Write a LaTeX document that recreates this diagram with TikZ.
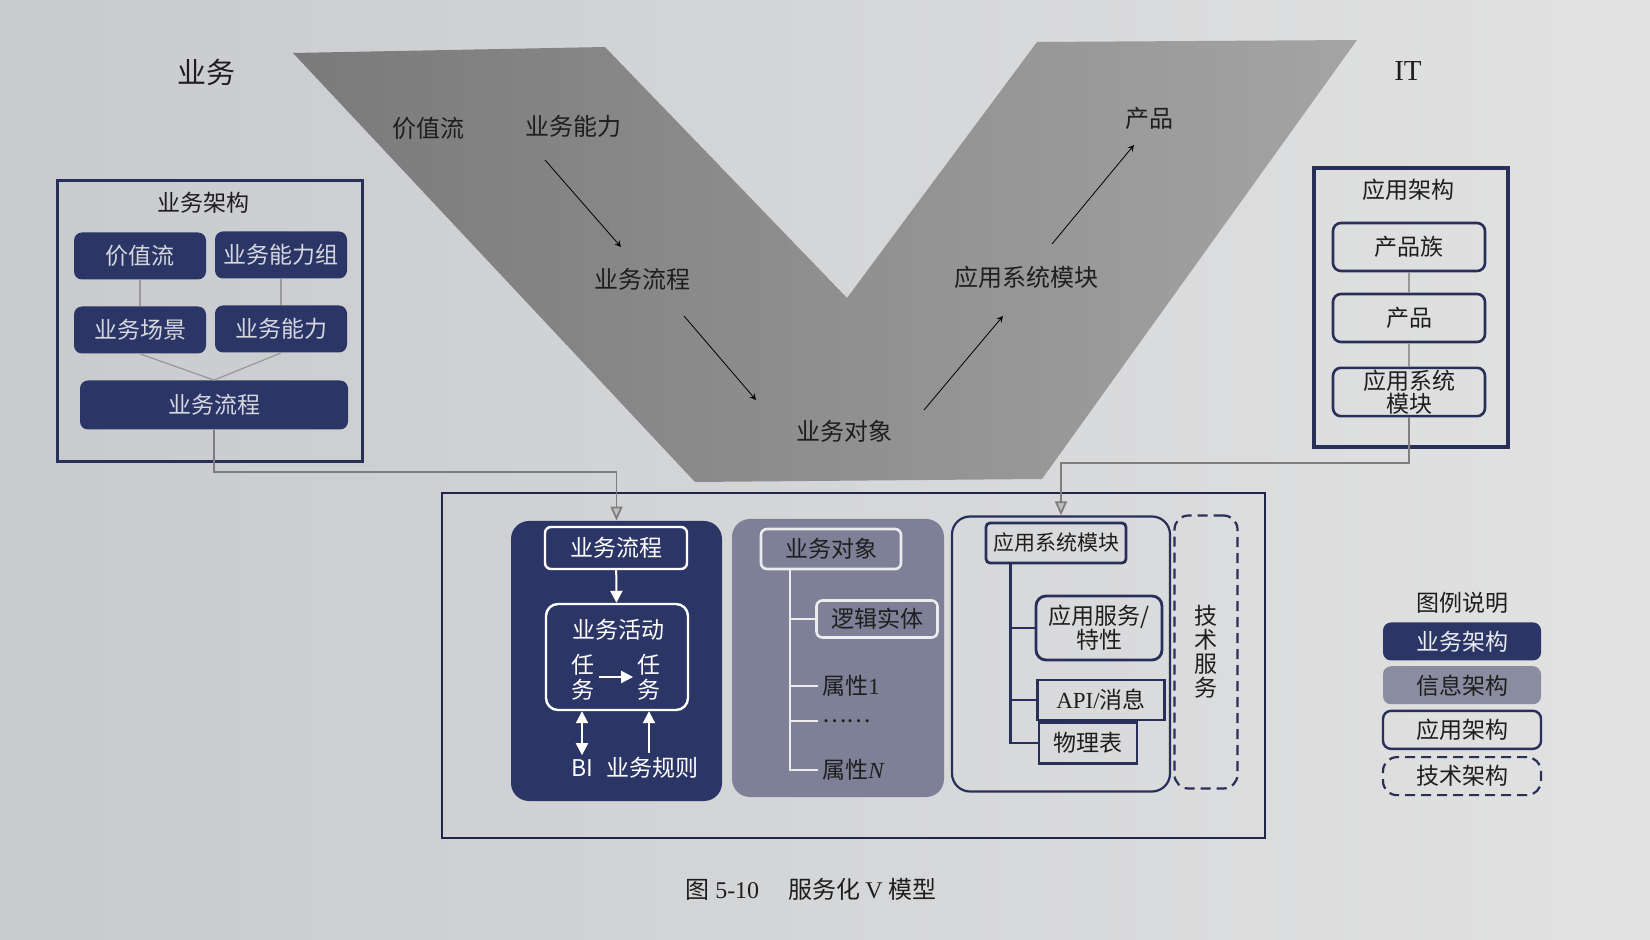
\documentclass[tikz,border=0pt]{standalone}
\usepackage{fontspec}
\setmainfont{Noto Sans CJK SC}
\newfontfamily\latin{Liberation Serif}
\usetikzlibrary{arrows.meta,positioning}
\definecolor{bizblue}{HTML}{2C3666}
\definecolor{infogray}{HTML}{7D8096}
\definecolor{framenavy}{HTML}{28305A}
\definecolor{vdark}{HTML}{7A7A7A}
\definecolor{vlight}{HTML}{A4A4A4}
\definecolor{pageleft}{HTML}{C8CACE}
\definecolor{pageright}{HTML}{E2E2E2}
\definecolor{linkgray}{HTML}{7E7E7E}
\definecolor{inktext}{HTML}{1E1E1E}

\begin{document}
\begin{tikzpicture}[x=0.5pt, y=-0.5pt, >=stealth,
  every node/.style={font=\fontsize{11.5}{12.5}\selectfont, text=inktext, inner sep=2pt},
  archframe/.style={draw=framenavy, line width=1.5pt},
  bizbox/.style={fill=bizblue, text=white!80!bizblue, rounded corners=4pt, minimum width=66pt, minimum height=23.5pt},
  appbox/.style={draw=framenavy, line width=1.3pt, rounded corners=4pt, minimum width=76pt, minimum height=24pt},
  whitebox/.style={draw=white, line width=1.2pt, rounded corners=3pt, text=white},
  infobox/.style={draw=white!85!infogray, line width=1.3pt, rounded corners=3pt},
  modbox/.style={draw=framenavy, line width=1.4pt},
  vlabel/.style={font=\fontsize{12}{13}\selectfont},
  thinlink/.style={draw=linkgray!80, line width=0.6pt},
  linkline/.style={draw=linkgray, line width=0.9pt, -{Triangle[width=6pt,length=7pt,fill=linkgray!50!white]}},
  legbox/.style={minimum width=79pt, minimum height=19pt, rounded corners=4pt},
  techdash/.style={draw=framenavy, line width=1.1pt, dash pattern=on 5pt off 3pt, rounded corners=7pt}]

% page and V band
\shade[left color=pageleft, right color=pageright] (0,0) rectangle (1650,940);
\shade[left color=vdark, right color=vlight] (293,53) -- (605,47) -- (847,298) -- (1037,42) -- (1357,40) -- (1042,479) -- (695,482) -- cycle;

\node (biz) at (206,72) [font=\fontsize{14.5}{16}\selectfont] {业务};
\node (it) at (1408,71) [font=\latin\fontsize{14.5}{16}\selectfont] {IT};

\node[vlabel] (vvalue) at (428,128) {价值流};
\node[vlabel] (vcap) at (573,126) {业务能力};
\node[vlabel] (vflow) at (642,279) {业务流程};
\node[vlabel] (vobj) at (844,431) {业务对象};
\node[vlabel] (vmod) at (1026,277) {应用系统模块};
\node[vlabel] (vprod) at (1149,118) {产品};
\draw[->] ([shift={(-28,34)}]vcap.center) -- ([shift={(-21,-32)}]vflow.center);
\draw[->] ([shift={(42,37)}]vflow.center) -- ([shift={(-88,-31)}]vobj.center);
\draw[->] ([shift={(80,-21)}]vobj.center) -- ([shift={(-23,39)}]vmod.center);
\draw[->] ([shift={(26,-33)}]vmod.center) -- ([shift={(-15,27)}]vprod.center);

% business architecture
\node[archframe, minimum width=152.5pt, minimum height=140.5pt] (bizarch) at (209.5,321.5) {};
\node (bizarchtitle) at (203,203) {业务架构};
\node[bizbox] (value) at (140,256) {价值流};
\node[bizbox] (capgroup) at (281,255) {业务能力组};
\node[bizbox] (scene) at (140,330) {业务场景};
\node[bizbox] (cap) at (281,329) {业务能力};
\node[bizbox, minimum width=134pt, minimum height=24.5pt] (flow) at (214,405) {业务流程};
\draw[thinlink] (value) -- (scene);
\draw[thinlink] (capgroup) -- (cap);
\draw[thinlink] (scene.south) -- (flow.north);
\draw[thinlink] (cap.south) -- (flow.north);

% application architecture
\node[archframe, line width=2pt, minimum width=97pt, minimum height=139.5pt] (apparch) at (1411,307.5) {};
\node (apparchtitle) at (1408,190) {应用架构};
\node[appbox] (family) at (1409,247) {产品族};
\node[appbox] (product) at (1409,318) {产品};
\node[appbox, align=center, inner sep=1pt, font=\fontsize{11.5}{11.5}\selectfont] (module) at (1409,392) {应用系统\\模块};
\draw[thinlink] (family) -- (product);
\draw[thinlink] (product) -- (module);

% model
\node[draw=framenavy!80!black, line width=1pt, minimum width=411.5pt, minimum height=172.5pt] (model) at (853.5,665.5) {};

\node[fill=bizblue, rounded corners=9pt, minimum width=105.5pt, minimum height=140pt] (bizpanel) at (616.5,661) {};
\node[whitebox, minimum width=71pt, minimum height=21pt] (bflow) at (616,548) {业务流程};
\node[whitebox, minimum width=71pt, minimum height=53pt, rounded corners=6pt] (act) at (617,657) {};
\draw[white, line width=1pt, -{Triangle[width=6pt,length=6pt]}] (bflow) -- (act);
\node[text=white] (acttitle) at (618,630) {业务活动};
\node[text=white, align=center] (task1) at (583,677) {任\\务};
\node[text=white, align=center] (task2) at (649,677) {任\\务};
\draw[white, line width=1.2pt, -{Triangle[width=6pt,length=6pt]}] (task1) -- (task2);
\node[text=white] (bi) at (582,768) {BI};
\node[text=white] (rules) at (652,768) {业务规则};
\draw[white, line width=1pt, {Triangle[width=6pt,length=6pt]}-{Triangle[width=6pt,length=6pt]}] (bi.north) -- (act.south -| bi.north);
\draw[white, line width=1pt, -{Triangle[width=6pt,length=6pt]}] (rules.north -| task2) -- (act.south -| task2);

\node[fill=infogray, rounded corners=9pt, minimum width=106pt, minimum height=139pt] (infopanel) at (838,658) {};
\node[infobox, minimum width=70pt, minimum height=20pt] (bobj) at (831,549) {业务对象};
\node[infobox, minimum width=60.5pt, minimum height=18.5pt] (logic) at (877,619) {逻辑实体};
\node[anchor=west] (attr1) at (818,686) {属性{\latin 1}};
\node[anchor=west] (attrdots) at (818,721) {……};
\node[anchor=west] (attrn) at (818,770) {属性{\latin\itshape N}};
\draw[white!85!infogray, line width=1pt] ([xshift=15pt]bobj.south west) |- (logic.west);
\draw[white!85!infogray, line width=1pt] ([xshift=15pt]bobj.south west) |- (attr1.west);
\draw[white!85!infogray, line width=1pt] ([xshift=15pt]bobj.south west) |- (attrdots.west);
\draw[white!85!infogray, line width=1pt] ([xshift=15pt]bobj.south west) |- (attrn.west);

\node[draw=framenavy, line width=1.1pt, rounded corners=9pt, minimum width=109pt, minimum height=137.5pt] (apppanel) at (1061,654) {};
\node[modbox, rounded corners=2pt, minimum width=70pt, minimum height=20pt, font=\fontsize{10.5}{11}\selectfont] (amod) at (1056,543) {应用系统模块};
\node[modbox, rounded corners=5pt, minimum width=63pt, minimum height=32pt, align=center, font=\fontsize{11.5}{12}\selectfont] (svc) at (1099,628) {应用服务/\\特性};
\node[modbox, minimum width=63.5pt, minimum height=20pt] (api) at (1101,700) {{\latin API/}消息};
\node[modbox, minimum width=49pt, minimum height=20.5pt] (tbl) at (1088,743) {物理表};
\draw[framenavy, line width=1.3pt] ([xshift=13pt]amod.south west) |- (svc.west);
\draw[framenavy, line width=1.3pt] ([xshift=13pt]amod.south west) |- (api.west);
\draw[framenavy, line width=1.3pt] ([xshift=13pt]amod.south west) |- (tbl.west);

\node[techdash, minimum width=31.5pt, minimum height=136.5pt, align=center, font=\fontsize{11.5}{12}\selectfont] (tech) at (1206,652) {技\\术\\服\\务};

% links into the model
\coordinate (lbend) at (214,472);
\coordinate (rbend) at (1409,463);
\draw[linkline] (flow.south) -- (lbend) -| (bizpanel.north);
\draw[linkline] (module.south) -- (rbend) -| (apppanel.north);

% legend
\node (legtitle) at (1462,603) {图例说明};
\node[legbox, fill=bizblue, text=white!90!bizblue, below=2pt of legtitle] (legbiz) {业务架构};
\node[legbox, fill=infogray!90!white, below=2.5pt of legbiz] (leginfo) {信息架构};
\node[legbox, draw=framenavy, line width=1.2pt, below=2.5pt of leginfo] (legapp) {应用架构};
\node[legbox, techdash, below=3pt of legapp] (legtech) {技术架构};

\node[font=\fontsize{12}{13}\selectfont] (caption) at (811,889) {图 {\latin 5-10}\hspace{1.2em}服务化 {\latin V} 模型};
\end{tikzpicture}
\end{document}
